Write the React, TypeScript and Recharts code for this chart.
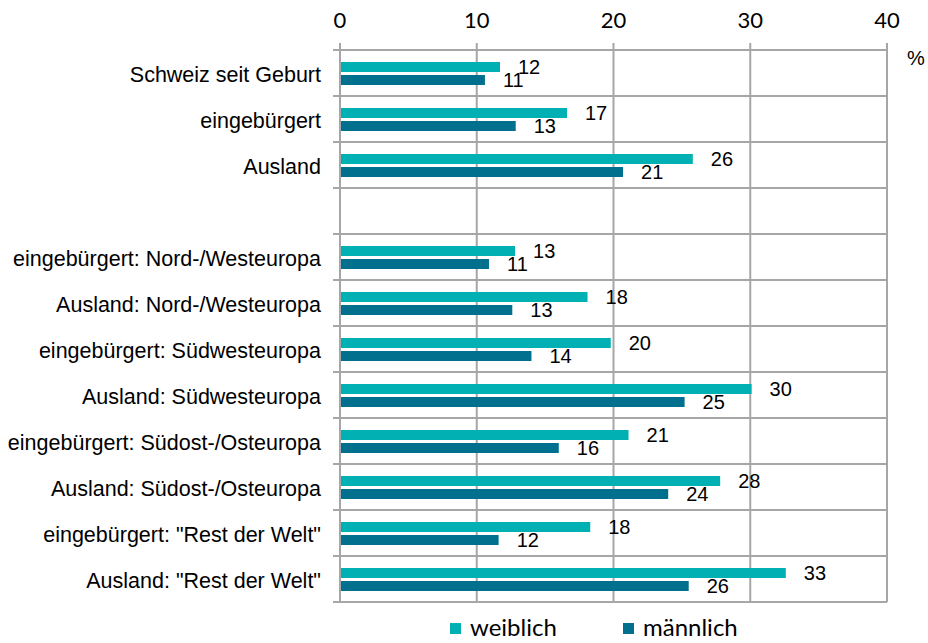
import React from 'react';
import { BarChart, Bar, XAxis, YAxis, CartesianGrid, Legend, LabelList } from 'recharts';

const categories = [
  'Schweiz seit Geburt',
  'eingebürgert',
  'Ausland',
  '',
  'eingebürgert: Nord-/Westeuropa',
  'Ausland: Nord-/Westeuropa',
  'eingebürgert: Südwesteuropa',
  'Ausland: Südwesteuropa',
  'eingebürgert: Südost-/Osteuropa',
  'Ausland: Südost-/Osteuropa',
  'eingebürgert: "Rest der Welt"',
  'Ausland: "Rest der Welt"',
];
const weiblich: (number | null)[] = [11.7, 16.6, 25.8, null, 12.8, 18.1, 19.8, 30.1, 21.1, 27.8, 18.3, 32.6];
const maennlich: (number | null)[] = [10.6, 12.85, 20.7, null, 10.9, 12.6, 14.0, 25.2, 16.0, 24.0, 11.6, 25.5];
const xTicks = [0, 10, 20, 30, 40];
const seriesNames = ['weiblich', 'männlich'];

const data = categories.map((name, i) => ({ name, w: weiblich[i], m: maennlich[i] }));

const W = 928;
const H = 643;
const MARGIN = { top: 0, right: 41, bottom: 41, left: 0 };
const X_AXIS_H = 50;
const Y_AXIS_W = 340;
const PLOT_H = H - MARGIN.top - MARGIN.bottom - X_AXIS_H;
const ROW_H = PLOT_H / categories.length;
const TICK_SIZE = 7;
const TICK_MARGIN = 12;

const TEAL = '#00B0B2';
const DARK = '#00708E';
const GRID = '#A6A6A6';
const ARIAL = '"Liberation Sans", Arial, sans-serif';
const CAL = 'Lato, "Open Sans", sans-serif';

const YTick = (props: any) => {
  const { x, y, payload } = props;
  const half = ROW_H / 2;
  const lx = x + TICK_MARGIN;
  const isLast = payload.value === categories[categories.length - 1];
  return (
    <g>
      <line x1={lx} x2={lx + TICK_SIZE + 1} y1={y - half} y2={y - half} stroke={GRID} strokeWidth={2} />
      {isLast && (
        <line x1={lx} x2={lx + TICK_SIZE + 1} y1={y + half} y2={y + half} stroke={GRID} strokeWidth={2} />
      )}
      <text x={x} y={y + 1} dy="0.36em" textAnchor="end" fontSize={21.5} fontFamily={ARIAL} fill="#000">
        {payload.value}
      </text>
    </g>
  );
};

const fmt = (v: any) => (v == null ? '' : String(Math.round(Number(v))));

const renderLegend = (props: any) => {
  const payload = [...(props.payload || [])].sort(
    (a: any, b: any) => seriesNames.indexOf(a.value) - seriesNames.indexOf(b.value)
  );
  return (
    <div style={{ display: 'flex', alignItems: 'center', fontFamily: CAL, fontSize: 24, color: '#000', lineHeight: '30px' }}>
      {payload.map((p: any, i: number) => (
        <div key={i} style={{ display: 'flex', alignItems: 'center', width: i === 0 ? 173 : undefined }}>
          <span style={{ display: 'inline-block', width: 11, height: 11, background: p.color, marginRight: 9, marginTop: 2 }} />
          <span>{p.value}</span>
        </div>
      ))}
    </div>
  );
};

export default function App() {
  return (
    <div style={{ position: 'absolute', left: 0, top: 0, width: W, height: H, background: '#fff' }}>
      <BarChart
        width={W}
        height={H}
        data={data}
        layout="vertical"
        margin={MARGIN}
        barSize={10}
        barGap={3}
      >
        <CartesianGrid
          stroke={GRID}
          strokeWidth={2}
          horizontalCoordinatesGenerator={({ offset }: any) =>
            Array.from({ length: categories.length + 1 }, (_, i) => offset.top + (i * offset.height) / categories.length)
          }
        />
        <XAxis
          type="number"
          orientation="top"
          domain={[0, 40]}
          ticks={xTicks}
          height={X_AXIS_H}
          axisLine={{ stroke: GRID, strokeWidth: 2 }}
          tickLine={{ stroke: GRID, strokeWidth: 2 }}
          tickSize={TICK_SIZE}
          tickMargin={15}
          tick={{ fontSize: 22, fontFamily: CAL, fill: '#000' }}
          interval={0}
          label={{ value: '%', position: 'right', offset: 20, dy: 33, fontSize: 20, fontFamily: ARIAL, fill: '#000' }}
        />
        <YAxis
          type="category"
          dataKey="name"
          width={Y_AXIS_W}
          axisLine={{ stroke: GRID, strokeWidth: 2 }}
          tickLine={false}
          tickSize={TICK_SIZE}
          tickMargin={TICK_MARGIN}
          tick={<YTick />}
          interval={0}
        />
        <Legend
          layout="horizontal"
          verticalAlign="middle"
          align="center"
          content={renderLegend}
          wrapperStyle={{ top: 612, left: 450, width: 420, height: 30 }}
        />
        <Bar dataKey="w" name={seriesNames[0]} fill={TEAL} isAnimationActive={false}>
          <LabelList dataKey="w" position="right" offset={18} formatter={fmt} fontSize={20} fontFamily={ARIAL} fill="#000" />
        </Bar>
        <Bar dataKey="m" name={seriesNames[1]} fill={DARK} isAnimationActive={false}>
          <LabelList dataKey="m" position="right" offset={18} formatter={fmt} fontSize={20} fontFamily={ARIAL} fill="#000" />
        </Bar>
      </BarChart>
    </div>
  );
}
